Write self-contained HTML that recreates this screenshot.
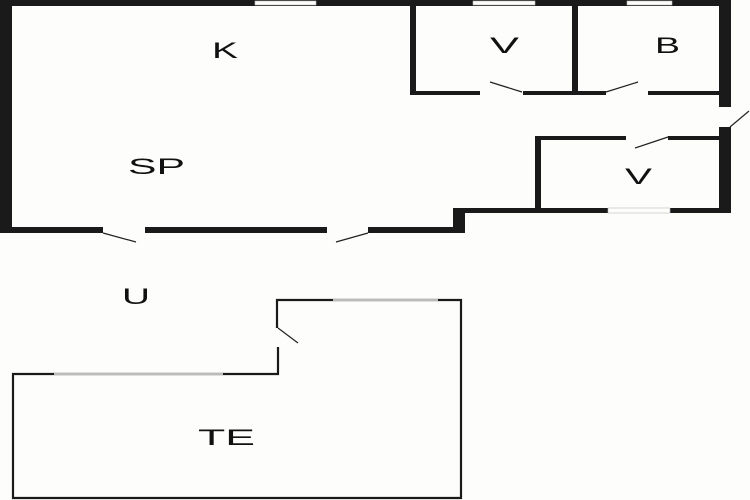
<!DOCTYPE html>
<html><head><meta charset="utf-8"><style>
html,body{margin:0;padding:0;background:#fdfdfb;}
svg{display:block}
text{font-family:"Liberation Sans",sans-serif;font-size:22px;fill:#111;}
</style></head><body>
<svg width="750" height="500" viewBox="0 0 750 500">
<rect width="750" height="500" fill="#fdfdfb"/>
<g fill="#1a1a1a">
<rect x="0" y="0" width="12" height="233"/>
<rect x="0" y="0" width="731" height="6"/>
<rect x="719" y="0" width="12" height="107"/>
<rect x="719" y="127" width="12" height="86"/>
<rect x="0" y="227" width="465" height="6"/>
<rect x="453" y="208" width="12" height="25"/>
<rect x="453" y="208" width="278" height="5"/>
<rect x="410" y="0" width="6" height="95"/>
<rect x="410" y="91" width="312" height="4"/>
<rect x="572" y="0" width="6" height="95"/>
<rect x="535" y="136" width="186" height="4"/>
<rect x="535" y="136" width="6" height="76"/>
</g>
<g fill="#fdfdfb" stroke="#bbb" stroke-width="0.6">
<rect x="255" y="1" width="61" height="4"/>
<rect x="473" y="1" width="62" height="4"/>
<rect x="627" y="1" width="45" height="4"/>
<rect x="608" y="208" width="62" height="5"/>
</g>
<g fill="#fdfdfb">
<rect x="480" y="90" width="43" height="6"/>
<rect x="606" y="90" width="42" height="6"/>
<rect x="626" y="135" width="42" height="6"/>
<rect x="718" y="107" width="14" height="20"/>
<rect x="103" y="226" width="42" height="8"/>
<rect x="327" y="226" width="41" height="8"/>
</g>
<g stroke="#222" stroke-width="1.2">
<line x1="490" y1="82" x2="522" y2="92"/>
<line x1="638" y1="82" x2="606" y2="92"/>
<line x1="668" y1="137" x2="635" y2="148"/>
<line x1="730" y1="127" x2="749" y2="111"/>
<line x1="103" y1="233" x2="136" y2="242"/>
<line x1="368" y1="233" x2="336" y2="242"/>
<line x1="278" y1="328" x2="298" y2="343"/>
</g>
<g stroke="#1a1a1a" stroke-width="2.2" fill="none">
<polyline points="277,328 277,300 461,300 461,498 13,498 13,374 278,374 278,347"/>
</g>
<g stroke="#bbb" stroke-width="2.2">
<line x1="333" y1="300" x2="438" y2="300"/>
<line x1="54" y1="374" x2="223" y2="374"/>
</g>
<text x="212" y="58" textLength="26" lengthAdjust="spacingAndGlyphs">K</text>
<text x="490" y="53" textLength="29" lengthAdjust="spacingAndGlyphs">V</text>
<text x="655" y="53" textLength="25" lengthAdjust="spacingAndGlyphs">B</text>
<text x="128" y="174" textLength="57" lengthAdjust="spacingAndGlyphs">SP</text>
<text x="625" y="184" textLength="27" lengthAdjust="spacingAndGlyphs">V</text>
<text x="122" y="304" textLength="28" lengthAdjust="spacingAndGlyphs">U</text>
<text x="198" y="445" textLength="57" lengthAdjust="spacingAndGlyphs">TE</text>
</svg>
</body></html>
